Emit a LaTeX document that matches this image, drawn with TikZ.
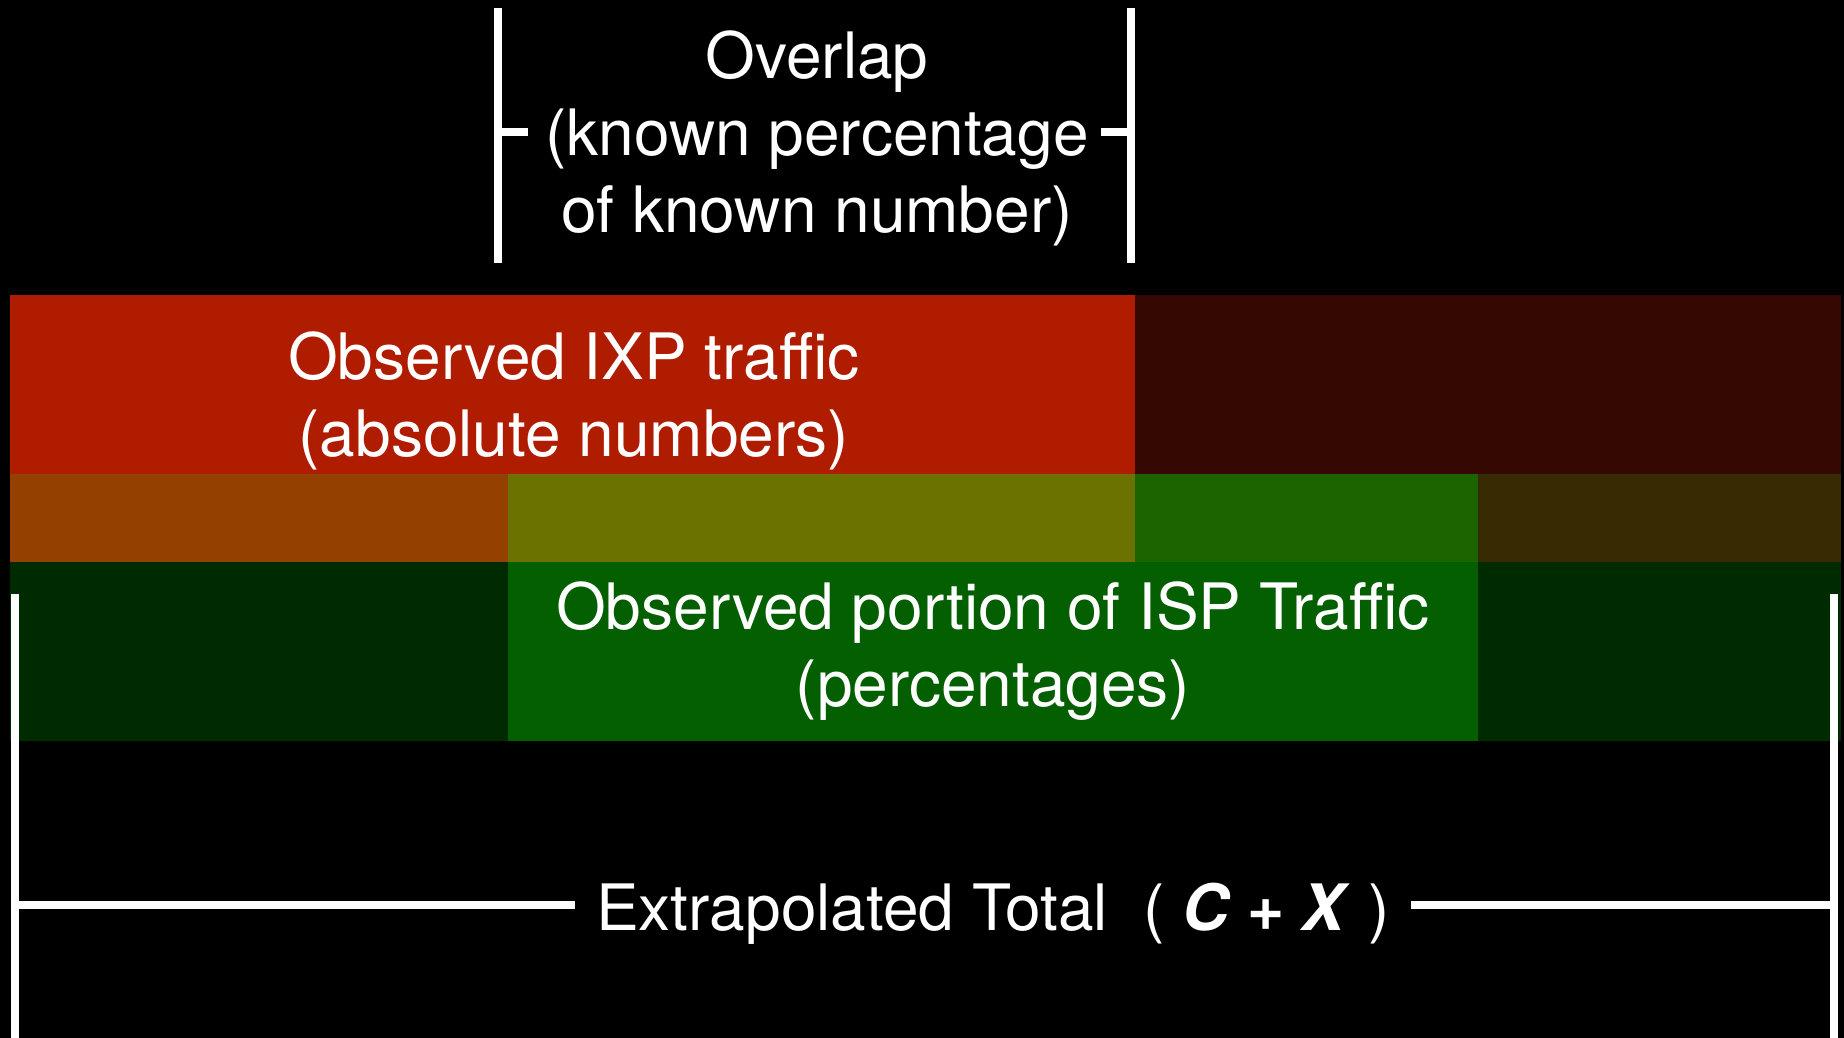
\documentclass[tikz,border=0pt]{standalone}
\usepackage{fontspec}
\setmainfont{TeX Gyre Heros}
\usepackage{tikz}

\definecolor{ixpred}{RGB}{175,28,0}
\definecolor{ixpdim}{RGB}{54,8,2}
\definecolor{ovorange}{RGB}{147,64,0}
\definecolor{ovolive}{RGB}{107,114,0}
\definecolor{ovgreen}{RGB}{28,100,0}
\definecolor{ovbrown}{RGB}{56,42,2}
\definecolor{ispgreen}{RGB}{4,95,0}
\definecolor{ispdim}{RGB}{0,42,0}

\tikzset{
  bracket/.style={white, line width=7.5pt},
  bartext/.style={text=white, font=\fontsize{64}{77}\selectfont, align=center, anchor=base}
}

\begin{document}
\begin{tikzpicture}[x=1pt, y=-1pt]
  % Black background, fixes the page size
  \fill[black] (0,0) rectangle (1844,1038);
  \useasboundingbox (0,0) rectangle (1844,1038);

  \def\xl{10}
  \def\xa{508}
  \def\xb{1135}
  \def\xc{1478}
  \def\xr{1841}
  \def\ya{295}
  \def\yb{474}
  \def\yc{562}
  \def\yd{741}

  % Draw IXP bar (top row)
  \fill[ixpred] (\xl,\ya) rectangle (\xb,\yb);
  \fill[ixpdim] (\xb,\ya) rectangle (\xr,\yb);

  % Draw overlap of both bars (middle row)
  \fill[ovorange] (\xl,\yb) rectangle (\xa,\yc);
  \fill[ovolive]  (\xa,\yb) rectangle (\xb,\yc);
  \fill[ovgreen]  (\xb,\yb) rectangle (\xc,\yc);
  \fill[ovbrown]  (\xc,\yb) rectangle (\xr,\yc);

  % Draw ISP bar (bottom row)
  \fill[ispdim]   (\xl,\yc) rectangle (\xa,\yd);
  \fill[ispgreen] (\xa,\yc) rectangle (\xc,\yd);
  \fill[ispdim]   (\xc,\yc) rectangle (\xr,\yd);

  % Texts on the bars (base = last line)
  \node[bartext] (ixp) at (574,456) {Observed IXP traffic\\(absolute numbers)};
  \node[bartext] (isp) at (993,706) {Observed portion of ISP Traffic\\(percentages)};

  % --- Overlap bracket
  \coordinate (OVTL) at (498,8);
  \coordinate (OVBL) at (498,263);
  \coordinate (OVTR) at (1131,8);
  \coordinate (OVBR) at (1131,263);
  \coordinate (OVML) at (498,132);
  \coordinate (OVMR) at (1131,132);

  \draw[bracket] (OVTL) -- (OVBL);
  \draw[bracket] (OVTR) -- (OVBR);
  \draw[bracket] (OVML) -- ++(30,0);
  \draw[bracket] (OVMR) -- ++(-30,0);

  \node[bartext] (overlap) at (817,232) {Overlap\\(known percentage\\of known number)};

  % --- Extrapolated total bracket
  \coordinate (TOTL) at (15,594);
  \coordinate (TOTR) at (1834,594);
  \coordinate (TOTML) at (15,905);
  \coordinate (TOTMR) at (1834,905);

  \draw[bracket] (TOTL) -- (15,1038);
  \draw[bracket] (TOTR) -- (1834,1038);

  \node[bartext, inner xsep=21pt] (total) at (993,930)
    {Extrapolated Total\ \ ( \textbf{\textit{C + X}} )};

  \draw[bracket] (TOTML) -- (TOTML -| total.west);
  \draw[bracket] (TOTMR) -- (TOTMR -| total.east);
\end{tikzpicture}
\end{document}
